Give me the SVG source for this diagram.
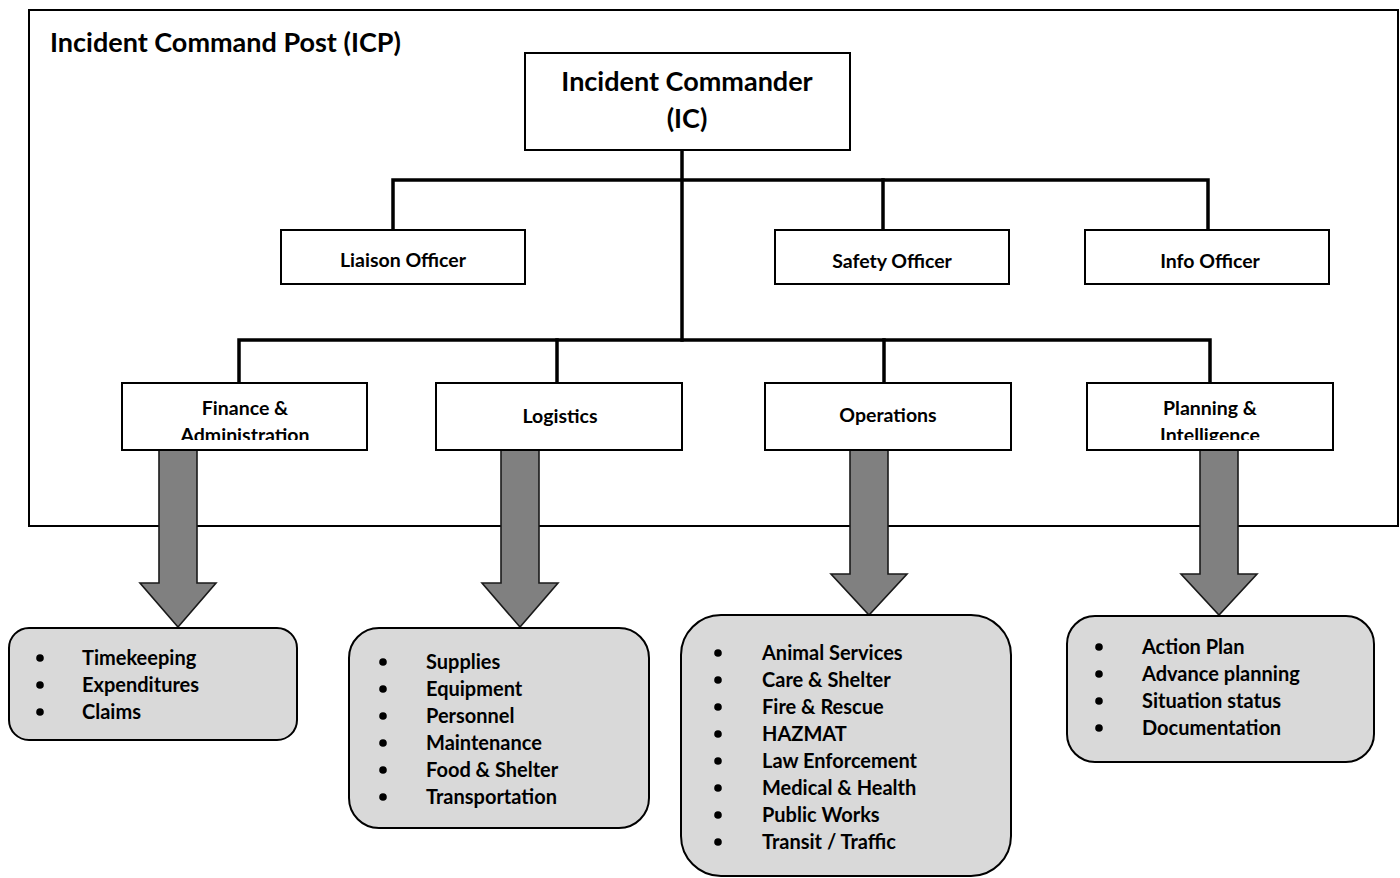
<svg xmlns="http://www.w3.org/2000/svg" width="1400" height="878" viewBox="0 0 1400 878">
  <style>
    .box { fill: #ffffff; stroke: #000000; stroke-width: 2; }
    .list { fill: #d9d9d9; stroke: #000000; stroke-width: 2; }
    .wire { fill: none; stroke: #000000; stroke-width: 3.5; stroke-linecap: square; }
    .flow { fill: #808080; stroke: #1a1a1a; stroke-width: 1.6; stroke-linejoin: miter; }
    text { font-family: Lato, "Open Sans", "Liberation Sans", sans-serif; font-weight: bold; fill: #000000; }
    .big { font-size: 27px; }
    .mid { font-size: 19.5px; text-anchor: middle; }
    .item { font-size: 20px; }
    .dot { fill: #000000; }
  </style>
  <defs>
    <clipPath id="clip-fin"><rect x="123" y="384" width="243" height="56"/></clipPath>
    <clipPath id="clip-plan"><rect x="1088" y="384" width="244" height="56"/></clipPath>
  </defs>

  <!-- Command post boundary -->
  <g id="icp-frame">
    <rect x="29" y="10" width="1369" height="516" fill="none" stroke="#000000" stroke-width="2"/>
    <text class="big" x="50" y="52">Incident Command Post (ICP)</text>
  </g>

  <!-- Reporting lines -->
  <g id="connectors">
    <path class="wire" d="M682,150 V340"/>
    <path class="wire" d="M393,230 V180 H1208 V230"/>
    <path class="wire" d="M883,180 V230"/>
    <path class="wire" d="M239,383 V340 H1210 V383"/>
    <path class="wire" d="M557,340 V383"/>
    <path class="wire" d="M884,340 V383"/>
  </g>

  <!-- Section-to-function arrows -->
  <g id="flow-arrows">
    <path class="flow" d="M159,450 H197 V583 H216 L178,627 L140,583 H159 Z"/>
    <path class="flow" d="M501,450 H539 V583 H558 L520,627 L482,583 H501 Z"/>
    <path class="flow" d="M850,450 H888 V574 H907 L869,615 L831,574 H850 Z"/>
    <path class="flow" d="M1200,450 H1238 V574 H1257 L1219,615 L1181,574 H1200 Z"/>
  </g>

  <g id="incident-commander">
    <rect class="box" x="525" y="53" width="325" height="97"/>
    <text class="big" x="687" y="91" text-anchor="middle">Incident Commander</text>
    <text class="big" x="687" y="128" text-anchor="middle">(IC)</text>
  </g>

  <g id="liaison-officer">
    <rect class="box" x="281" y="230" width="244" height="54"/>
    <text class="mid" x="403" y="267">Liaison Officer</text>
  </g>
  <g id="safety-officer">
    <rect class="box" x="775" y="230" width="234" height="54"/>
    <text class="mid" x="892" y="268">Safety Officer</text>
  </g>
  <g id="info-officer">
    <rect class="box" x="1085" y="230" width="244" height="54"/>
    <text class="mid" x="1210" y="268">Info Officer</text>
  </g>

  <g id="finance-admin">
    <rect class="box" x="122" y="383" width="245" height="67"/>
    <g clip-path="url(#clip-fin)">
      <text class="mid" x="245" y="415">Finance &amp;</text>
      <text class="mid" x="245" y="442">Administration</text>
    </g>
  </g>
  <g id="logistics">
    <rect class="box" x="436" y="383" width="246" height="67"/>
    <text class="mid" x="560" y="423">Logistics</text>
  </g>
  <g id="operations">
    <rect class="box" x="765" y="383" width="246" height="67"/>
    <text class="mid" x="888" y="422">Operations</text>
  </g>
  <g id="planning-intel">
    <rect class="box" x="1087" y="383" width="246" height="67"/>
    <g clip-path="url(#clip-plan)">
      <text class="mid" x="1210" y="415">Planning &amp;</text>
      <text class="mid" x="1210" y="442">Intelligence</text>
    </g>
  </g>

  <g id="finance-tasks">
    <rect class="list" x="9" y="628" width="288" height="112" rx="20"/>
    <circle class="dot" cx="40" cy="658" r="3.8"/>
    <circle class="dot" cx="40" cy="685" r="3.8"/>
    <circle class="dot" cx="40" cy="712" r="3.8"/>
    <text class="item" x="82" y="665">Timekeeping</text>
    <text class="item" x="82" y="692">Expenditures</text>
    <text class="item" x="82" y="719">Claims</text>
  </g>

  <g id="logistics-tasks">
    <rect class="list" x="349" y="628" width="300" height="200" rx="30"/>
    <circle class="dot" cx="383" cy="662" r="3.8"/>
    <circle class="dot" cx="383" cy="689" r="3.8"/>
    <circle class="dot" cx="383" cy="716" r="3.8"/>
    <circle class="dot" cx="383" cy="743" r="3.8"/>
    <circle class="dot" cx="383" cy="770" r="3.8"/>
    <circle class="dot" cx="383" cy="797" r="3.8"/>
    <text class="item" x="426" y="669">Supplies</text>
    <text class="item" x="426" y="696">Equipment</text>
    <text class="item" x="426" y="723">Personnel</text>
    <text class="item" x="426" y="750">Maintenance</text>
    <text class="item" x="426" y="777">Food &amp; Shelter</text>
    <text class="item" x="426" y="804">Transportation</text>
  </g>

  <g id="operations-tasks">
    <rect class="list" x="681" y="615" width="330" height="261" rx="40"/>
    <circle class="dot" cx="718" cy="653" r="3.8"/>
    <circle class="dot" cx="718" cy="680" r="3.8"/>
    <circle class="dot" cx="718" cy="707" r="3.8"/>
    <circle class="dot" cx="718" cy="734" r="3.8"/>
    <circle class="dot" cx="718" cy="761" r="3.8"/>
    <circle class="dot" cx="718" cy="788" r="3.8"/>
    <circle class="dot" cx="718" cy="815" r="3.8"/>
    <circle class="dot" cx="718" cy="842" r="3.8"/>
    <text class="item" x="762" y="660">Animal Services</text>
    <text class="item" x="762" y="687">Care &amp; Shelter</text>
    <text class="item" x="762" y="714">Fire &amp; Rescue</text>
    <text class="item" x="762" y="741">HAZMAT</text>
    <text class="item" x="762" y="768">Law Enforcement</text>
    <text class="item" x="762" y="795">Medical &amp; Health</text>
    <text class="item" x="762" y="822">Public Works</text>
    <text class="item" x="762" y="849">Transit / Traffic</text>
  </g>

  <g id="planning-tasks">
    <rect class="list" x="1067" y="616" width="307" height="146" rx="28"/>
    <circle class="dot" cx="1099" cy="647" r="3.8"/>
    <circle class="dot" cx="1099" cy="674" r="3.8"/>
    <circle class="dot" cx="1099" cy="701" r="3.8"/>
    <circle class="dot" cx="1099" cy="728" r="3.8"/>
    <text class="item" x="1142" y="654">Action Plan</text>
    <text class="item" x="1142" y="681">Advance planning</text>
    <text class="item" x="1142" y="708">Situation status</text>
    <text class="item" x="1142" y="735">Documentation</text>
  </g>
</svg>
